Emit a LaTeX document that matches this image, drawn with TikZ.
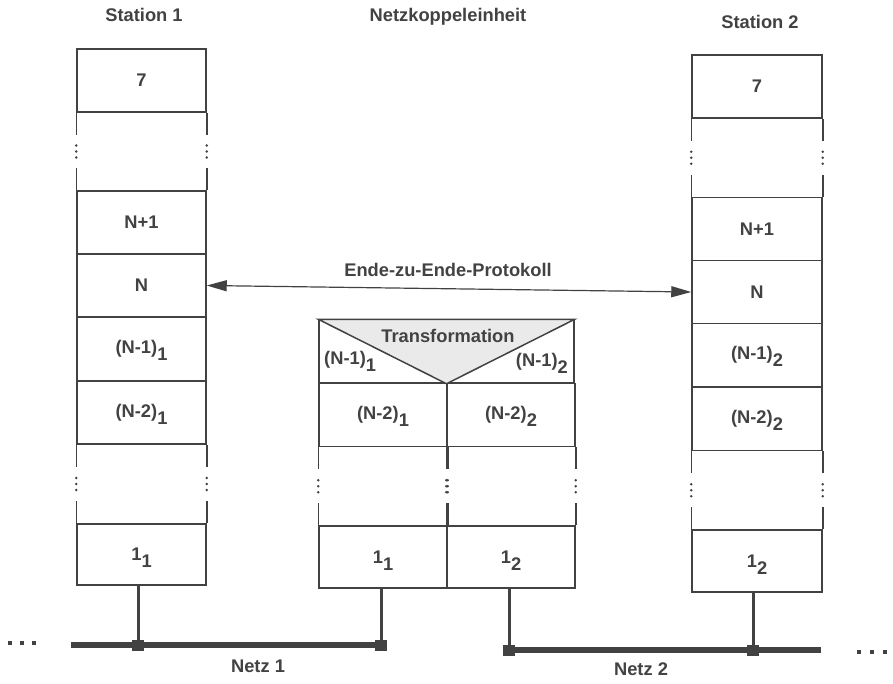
\documentclass[tikz,border=0pt]{standalone}
\usepackage{fontspec}
\setmainfont{Liberation Sans}
\usetikzlibrary{calc,arrows.meta}

\definecolor{ink}{RGB}{66,66,66}
\definecolor{paletint}{RGB}{234,234,234}

% lowered index that does not enlarge the label box
\newcommand\lsub[1]{\raisebox{-7pt}[0pt][0pt]{#1}}

\tikzset{
  lbl/.style={font=\fontsize{18.3}{21}\selectfont\bfseries, text=ink, inner sep=0pt},
  layer/.style={lbl, draw=ink, line width=1.5pt, minimum height=63pt},
  st/.style={layer, minimum width=129pt},
  half/.style={layer, minimum width=128pt},
  side/.style={draw=ink, line width=1.5pt},
  link/.style={draw=ink, line width=3pt},
  bus/.style={draw=ink, line width=6pt},
  tap/.style={fill=ink, minimum width=12pt, minimum height=11pt, inner sep=0pt},
  proto/.style={draw=ink, line width=1.2pt,
    {Triangle[length=20pt,width=11pt]}-{Triangle[length=20pt,width=11pt]}},
}

% open sides with dots between an upper and a lower layer box
\newcommand\gapsides[2]{%
  \foreach \sd in {west,east}{
    \draw[side] (#1.south \sd) -- ++(0,22);
    \draw[side] (#2.north \sd) -- ++(0,-22);
    \foreach \dd in {-6,0,6}
      \fill[ink] ($(#1.south \sd)!0.5!(#2.north \sd)+(0,\dd)$) circle (1.4pt);
  }}

\begin{document}
\begin{tikzpicture}[x=1pt,y=-1pt]
\useasboundingbox (0,0) rectangle (893,683);

% headings
\node[lbl] (h1) at (144,15) {Station 1};
\node[lbl] (h0) at (448,17) {Netzkoppeleinheit};
\node[lbl] (h2) at (760,22) {Station 2};

% station 1
\node[st] (s1seven) at (141.5,80.5) {7};
\node[st] (s1np)    at (141.5,222.5) {N+1};
\node[st] (s1n)     at (141.5,285.5) {N};
\node[st] (s1nm1)   at (141.5,349) {(N-1)\lsub{1}};
\node[st] (s1nm2)   at (141.5,412.5) {(N-2)\lsub{1}};
\node[st, minimum height=61pt] (s1one) at (141.5,554.5) {1\lsub{1}};
\gapsides{s1seven}{s1np}
\gapsides{s1nm2}{s1one}

% station 2
\node[st, minimum width=130pt] (s2seven) at (757,86.5) {7};
\node[st, minimum width=130pt] (s2np)    at (757,229) {N+1};
\node[st, minimum width=130pt] (s2n)     at (757,292) {N};
\node[st, minimum width=130pt] (s2nm1)   at (757,355) {(N-1)\lsub{2}};
\node[st, minimum width=130pt] (s2nm2)   at (757,419) {(N-2)\lsub{2}};
\node[st, minimum width=130pt, minimum height=62pt] (s2one) at (757,561) {1\lsub{2}};
\gapsides{s2seven}{s2np}
\gapsides{s2nm2}{s2one}

% coupling unit
\node[layer, minimum width=255pt] (top) at (446.5,351.5) {};
\fill[fill=paletint] (top.north west) -- (top.south) -- (top.north east) -- cycle;
\draw[side] (top.north west) -- (top.south) -- (top.north east) -- cycle;
\node[lbl] (tr) at (448,336) {Transformation};
\node[lbl, anchor=west] (tl) at (324,360) {(N-1)\lsub{1}};
\node[lbl, anchor=east] (tq) at (568,362) {(N-1)\lsub{2}};
\node[half] (ml2) at (383,415) {(N-2)\lsub{1}};
\node[half] (mr2) at (511,415) {(N-2)\lsub{2}};
\node[half, minimum height=62pt] (ml1) at (383,557) {1\lsub{1}};
\node[half, minimum height=62pt] (mr1) at (511,557) {1\lsub{2}};
\gapsides{ml2}{ml1}
\gapsides{mr2}{mr1}

% end-to-end protocol
\draw[proto] (s1n.east) -- (s2n.west);
\node[lbl] (pl) at (448,270) {Ende-zu-Ende-Protokoll};

% networks
\node[tap] (j1) at (138,645) {};
\node[tap] (m1) at (381,645) {};
\node[tap] (m2) at (509,650) {};
\node[tap] (j2) at (753,650) {};
\coordinate (b1w) at (71,645);
\coordinate (b2e) at (821,650);
\draw[bus] (b1w) -- (m1.center);
\draw[bus] (m2.center) -- (b2e);
\draw[link] (j1.center) -- (j1.center |- s1one.south);
\draw[link] (m1.center) -- (m1.center |- ml1.south);
\draw[link] (m2.center) -- (m2.center |- mr1.south);
\draw[link] (j2.center) -- (j2.center |- s2one.south);
\node[lbl] (n1) at (258,666) {Netz 1};
\node[lbl] (n2) at (641,669) {Netz 2};

% continuation marks
\foreach \xx in {10,22,34}
  \fill[ink] (\xx-2.2,643-2.2) rectangle ++(4.4,4.4);
\foreach \xx in {859,872,885}
  \fill[ink] (\xx-2.2,652-2.2) rectangle ++(4.4,4.4);
\end{tikzpicture}
\end{document}
